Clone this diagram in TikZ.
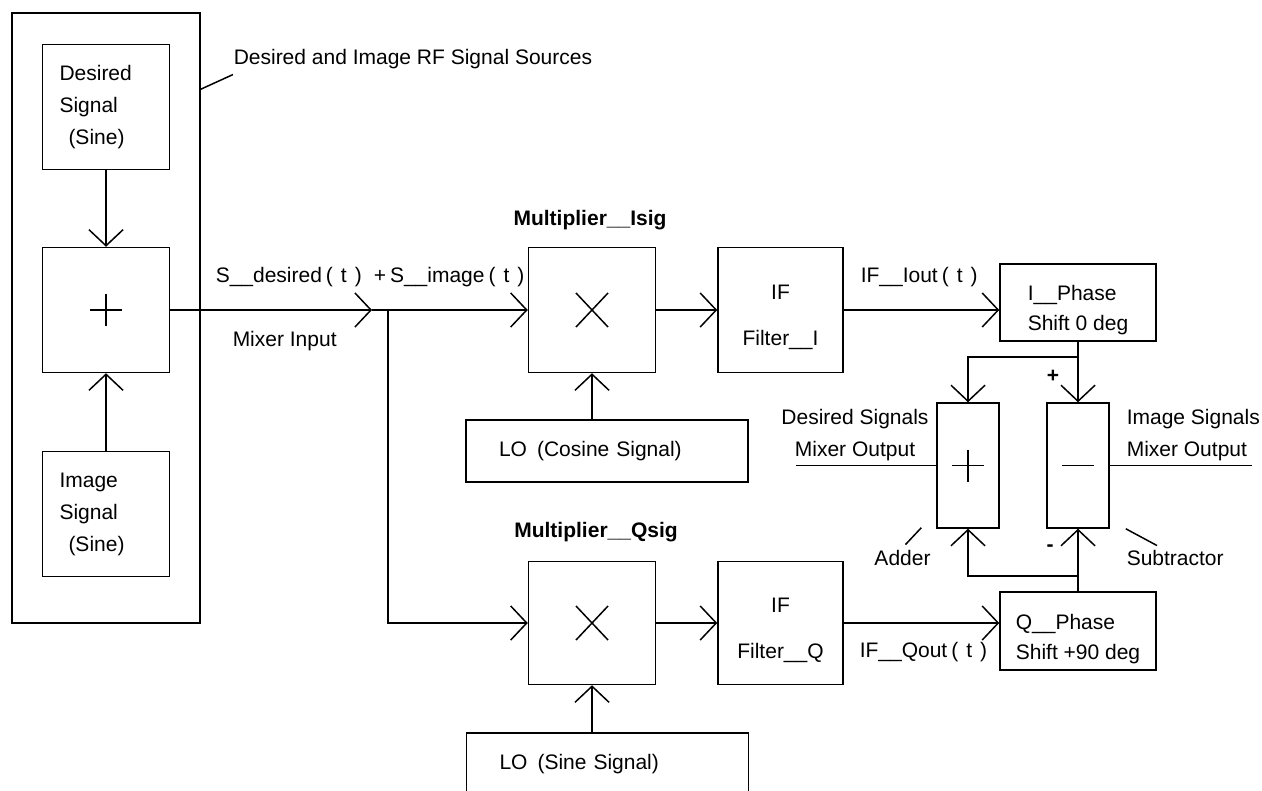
\documentclass[tikz,border=0pt]{standalone}
\usepackage{fontspec}
\setmainfont{Liberation Sans}
\usetikzlibrary{arrows.meta,positioning,calc}
\newcommand{\sarg}[1]{(\hspace{4pt}#1\hspace{4pt})}

\begin{document}
\begin{tikzpicture}[x=0.5pt,y=-0.5pt,
    font=\fontsize{10.5}{16}\selectfont,line width=0.75pt,
    blk/.style={draw,inner sep=0pt,align=center},
    srcbox/.style={blk,minimum width=63.5pt,minimum height=62.5pt},
    txtbox/.style={srcbox,text width=46.5pt,align=left},
    lobox/.style={blk,minimum height=31pt,text width=108pt,inner xsep=16.5pt,align=left},
    ifbox/.style={blk,minimum width=62.5pt,minimum height=62.5pt,
      label={[align=center,yshift=-3.5pt]center:{IF\\[7pt]Filter\_\_#1}}},
    phbox/.style={blk,minimum width=78pt,minimum height=38.5pt},
    phtxt/.style={align=left,yshift=-4pt,font=\fontsize{10.5}{15}\selectfont},
    opbox/.style={blk,minimum width=31pt,minimum height=62.5pt},
    sig/.style={-{Straight Barb[length=8pt,width=17pt]}},
    lbl/.style={inner sep=0pt},
    ttl/.style={lbl,font=\fontsize{10.5}{16}\selectfont\bfseries}]
    \path[use as bounding box,fill=white] (0,0) rectangle (1262,791);
    % RF signal sources
    \node[blk,minimum width=94pt,minimum height=305pt] (src) at (106,318) {};
    \node[txtbox] (des) at (106,107) {Desired\\Signal\\\hspace{4.5pt}(Sine)};
    \node[srcbox] (srcadd) at (106,310) {};
    \node[txtbox] (img) at (106,514) {Image\\Signal\\\hspace{4.5pt}(Sine)};
    \draw ([xshift=-8pt]srcadd.center) -- ([xshift=8pt]srcadd.center)
      ([yshift=-8pt]srcadd.center) -- ([yshift=8pt]srcadd.center);
    \node[lbl,anchor=west] (srclbl) at (233,59) {Desired and Image RF Signal Sources};
    \draw (src.north east) ++(0,77) -- ([yshift=-2.5pt]srclbl.south west);
    % mixers
    \node[srcbox] (multI) at (592,310) {};
    \node[srcbox,minimum height=61.5pt] (multQ) at (592,623) {};
    \node[ttl] (mIlbl) at (590,220) {Multiplier\_\_Isig};
    \node[ttl] (mQlbl) at (596,532) {Multiplier\_\_Qsig};
    \draw ([shift={(-16,-17)}]multI.center) -- ([shift={(16,17)}]multI.center)
      ([shift={(-16,17)}]multI.center) -- ([shift={(16,-17)}]multI.center);
    \draw ([shift={(-16,-17)}]multQ.center) -- ([shift={(16,17)}]multQ.center)
      ([shift={(-16,17)}]multQ.center) -- ([shift={(16,-17)}]multQ.center);
    \node[lobox] (loC) at (607,451) {LO\hspace{5pt}(Cosine Signal)};
    \node[lobox] (loS) at (607.5,764) {LO\hspace{5pt}(Sine Signal)};
    \node[ifbox=I] (ifI) at (780.5,310) {};
    \node[ifbox=Q,minimum height=61.5pt] (ifQ) at (780.5,623) {};
    \node[phbox,label={[phtxt]center:{I\_\_Phase\\Shift 0 deg}}] (iph) at (1078,302.5) {};
    \node[phbox,minimum height=39pt,label={[phtxt]center:{Q\_\_Phase\\Shift +90 deg}}] (qph) at (1078,631) {};
    % adder and subtractor
    \node[opbox] (oadd) at (968,465.5) {};
    \node[opbox] (osub) at (1078,465.5) {};
    \draw ([xshift=-8pt]oadd.center) -- ([xshift=8pt]oadd.center)
      ([yshift=-8pt]oadd.center) -- ([yshift=8pt]oadd.center);
    \draw ([xshift=-8pt]osub.center) -- ([xshift=8pt]osub.center);
    % signal labels
    \node[lbl,anchor=west] (siglbl) at (215,277) {S\_\_desired\hspace{2pt}\sarg{t}\hspace{6pt}+\hspace{2pt}S\_\_image\hspace{2pt}\sarg{t}};
    \node[lbl,anchor=west] (mixlbl) at (232,341) {Mixer Input};
    \node[lbl,anchor=west] (ioutlbl) at (860,277) {IF\_\_Iout\hspace{2pt}\sarg{t}};
    \node[lbl,anchor=west] (qoutlbl) at (859,652) {IF\_\_Qout\hspace{2pt}\sarg{t}};
    \node[lbl,align=center] (deslbl) at (855,435) {Desired Signals\\Mixer Output};
    \node[lbl,align=left,anchor=west] (imglbl) at (1126,435) {Image Signals\\Mixer Output};
    \node[lbl] (addlbl) at (902.5,558) {Adder};
    \node[lbl,anchor=west] (sublbl) at (1126,558) {Subtractor};
    \node[ttl] (plus) at (1053,376) {+};
    \node[ttl] (minus) at (1050,548) {-};
    \draw ([shift={(-15,-1)}]oadd.south west) -- ([shift={(3,-5)}]addlbl.north);
    \draw ([shift={(16,0)}]osub.south east) -- ([shift={(31,-4)}]sublbl.north west);
    % connectors
    \coordinate (mix) at (372,310);
    \coordinate (split) at (388,310);
    \coordinate (ibr) at (1078,357);
    \coordinate (qbr) at (1078,576);
    \coordinate (dout) at (796,467);
    \coordinate (iout) at (1252,467);
    \draw[sig] (des) -- (srcadd);
    \draw[sig] (img) -- (srcadd);
    \draw[sig] (srcadd) -- (mix);
    \draw[sig] (mix) -- (multI);
    \draw[sig] (split) |- (multQ);
    \draw[sig] (loC.north -| multI) -- (multI);
    \draw[sig] (loS.north -| multQ) -- (multQ);
    \draw[sig] (multI) -- (ifI);
    \draw[sig] (multQ) -- (ifQ);
    \draw[sig] (ifI) -- (ifI -| iph.west);
    \draw[sig] (ifQ) -- (ifQ -| qph.west);
    \draw[sig] (iph) -- (osub);
    \draw[sig] (ibr) -| (oadd);
    \draw[sig] (qph) -- (osub);
    \draw[sig] (qbr) -| (oadd);
    \draw (oadd.west) -- (oadd.west -| dout);
    \draw (osub.east) -- (osub.east -| iout);
  \end{tikzpicture}
\end{document}
